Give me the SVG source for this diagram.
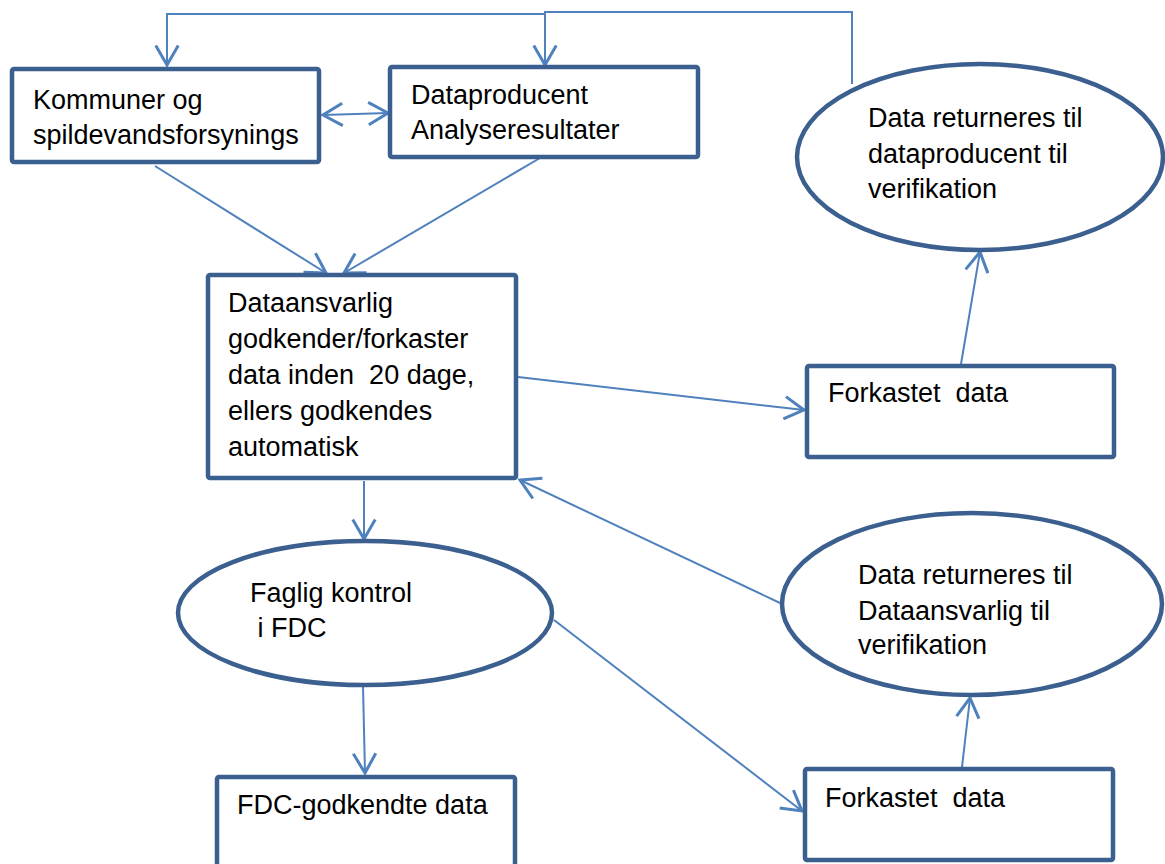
<svg xmlns="http://www.w3.org/2000/svg" width="1165" height="864" viewBox="0 0 1165 864">
<style>
.node{fill:#fff;stroke:#3B5F8E;stroke-width:4.5;stroke-linejoin:round}
.lbl{font-family:"Liberation Sans",Arial,sans-serif;font-size:27px;fill:#000;white-space:pre}
.edge{fill:none;stroke:#4F81BD;stroke-width:2}
</style>
<defs>
<marker id="arr" markerUnits="userSpaceOnUse" markerWidth="30" markerHeight="30" viewBox="-16 -10 20 20" refX="0" refY="0" orient="auto-start-reverse">
<path d="M-13,-7.5 L0,0 L-13,7.5" fill="none" stroke="#4F81BD" stroke-width="2"/>
</marker>
</defs>
<rect width="1165" height="864" fill="#fff"/>
<g id="connectors">
<path class="edge" d="M852,84 V12 H545 V65" marker-end="url(#arr)"/>
<path class="edge" d="M545,14 H167 V65" marker-end="url(#arr)"/>
<path class="edge" d="M323,115 L388,113" marker-start="url(#arr)" marker-end="url(#arr)"/>
<path class="edge" d="M155,166 L326,273" marker-end="url(#arr)"/>
<path class="edge" d="M540,158 L344,273" marker-end="url(#arr)"/>
<path class="edge" d="M364,481 L364,539" marker-end="url(#arr)"/>
<path class="edge" d="M363,686 L365,773" marker-end="url(#arr)"/>
<path class="edge" d="M518,377 L804,410" marker-end="url(#arr)"/>
<path class="edge" d="M961,364 L980,252" marker-end="url(#arr)"/>
<path class="edge" d="M780,603 L520,480" marker-end="url(#arr)"/>
<path class="edge" d="M554,620 L802,811" marker-end="url(#arr)"/>
<path class="edge" d="M962,767 L970,698" marker-end="url(#arr)"/>
</g>
<g id="kommuner">
<rect class="node" x="12" y="69" width="307" height="93" rx="2"/>
<text class="lbl" x="33" y="109">Kommuner og</text>
<text class="lbl" x="33" y="144">spildevandsforsynings</text>
</g>
<g id="dataproducent">
<rect class="node" x="390" y="67" width="308" height="90" rx="2"/>
<text class="lbl" x="411" y="104">Dataproducent</text>
<text class="lbl" x="411" y="139">Analyseresultater</text>
</g>
<g id="retur-dataproducent">
<ellipse class="node" cx="980" cy="157" rx="183" ry="93"/>
<text class="lbl" x="868" y="127">Data returneres til</text>
<text class="lbl" x="868" y="163">dataproducent til</text>
<text class="lbl" x="868" y="198">verifikation</text>
</g>
<g id="dataansvarlig">
<rect class="node" x="208" y="275" width="308" height="203" rx="2"/>
<text class="lbl" x="228" y="312">Dataansvarlig</text>
<text class="lbl" x="228" y="348">godkender/forkaster</text>
<text class="lbl" x="228" y="384">data inden  20 dage,</text>
<text class="lbl" x="228" y="420">ellers godkendes</text>
<text class="lbl" x="228" y="456">automatisk</text>
</g>
<g id="forkastet-1">
<rect class="node" x="807" y="366" width="307" height="91" rx="2"/>
<text class="lbl" x="828" y="402">Forkastet  data</text>
</g>
<g id="faglig-kontrol">
<ellipse class="node" cx="365" cy="613" rx="187" ry="72"/>
<text class="lbl" x="250" y="602">Faglig kontrol</text>
<text class="lbl" x="250" y="637"> i FDC</text>
</g>
<g id="retur-dataansvarlig">
<ellipse class="node" cx="972" cy="604" rx="190" ry="91"/>
<text class="lbl" x="858" y="584">Data returneres til</text>
<text class="lbl" x="858" y="620">Dataansvarlig til</text>
<text class="lbl" x="858" y="654">verifikation</text>
</g>
<g id="fdc-godkendte">
<rect class="node" x="217" y="777" width="298" height="100" rx="2"/>
<text class="lbl" x="237" y="814">FDC-godkendte data</text>
</g>
<g id="forkastet-2">
<rect class="node" x="805" y="769" width="308" height="91" rx="2"/>
<text class="lbl" x="825" y="807">Forkastet  data</text>
</g>
</svg>
